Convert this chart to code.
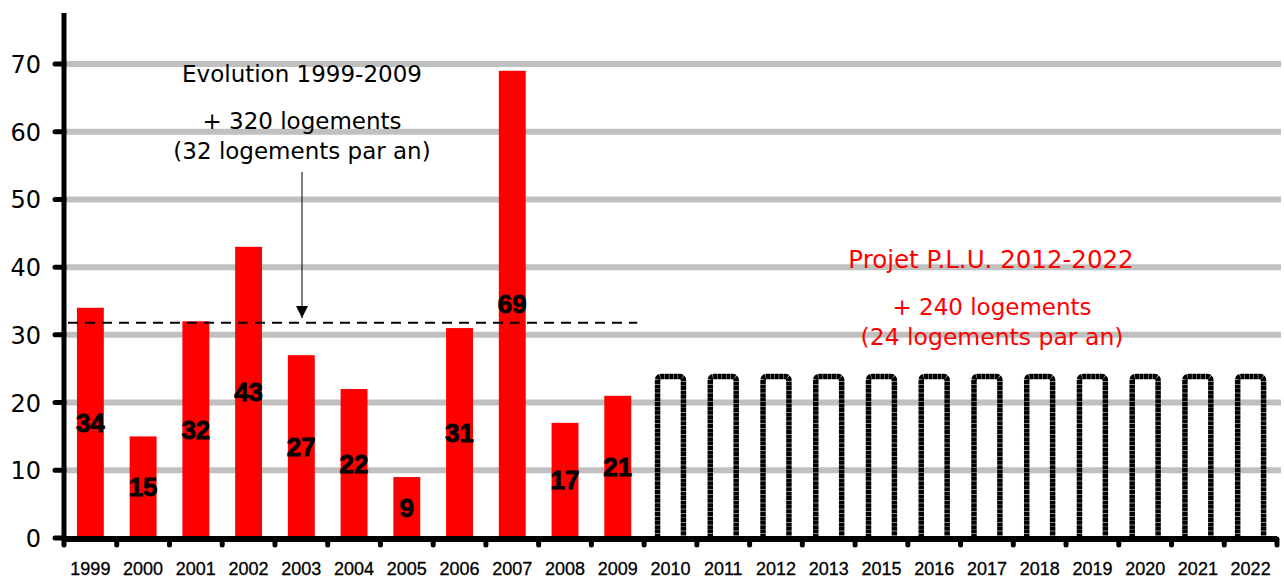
<!DOCTYPE html>
<html lang="fr">
  <head>
    <meta charset="UTF-8" />
    <title>Evolution des logements</title>
    <script src="https://d3js.org/d3.v7.min.js"></script>
    <style>
      body {
        margin: 0;
        background: #ffffff;
      }
      svg {
        display: block;
      }
    </style>
  </head>
  <body>
    <div id="chart"></div>
    <script>
      // data
      const years = [
        '1999', '2000', '2001', '2002', '2003', '2004', '2005', '2006',
        '2007', '2008', '2009', '2010', '2011', '2012', '2013', '2015',
        '2016', '2017', '2018', '2019', '2020', '2021', '2022',
      ];
      const built = [34, 15, 32, 43, 27, 22, 9, 31, 69, 17, 21];
      const projected = [24, 24, 24, 24, 24, 24, 24, 24, 24, 24, 24, 24];
      const yTicks = [0, 10, 20, 30, 40, 50, 60, 70];
      const averagePast = 32;

      const w = 1284,
        h = 579;
      const left = 64,
        right = 1277,
        bottom = 538;

      const svg = d3
        .select('#chart')
        .append('svg')
        .attr('width', w)
        .attr('height', h);

      const x = d3
        .scaleBand()
        .domain(years)
        .range([left, right])
        .paddingInner(0.49)
        .paddingOuter(0.245);

      const y = d3
        .scaleLinear()
        .domain([0, 70])
        .range([bottom, 64]);

      const barData = years.map((yr, i) =>
        i < built.length
          ? { year: yr, value: built[i], kind: 'built' }
          : { year: yr, value: projected[i - built.length], kind: 'plan' },
      );

      // grid lines
      svg
        .append('g')
        .selectAll('line')
        .data(yTicks.filter((d) => d > 0))
        .join('line')
        .attr('x1', left)
        .attr('x2', 1281)
        .attr('y1', (d) => y(d))
        .attr('y2', (d) => y(d))
        .attr('stroke', '#c0c0c0')
        .attr('stroke-width', 6);

      // built bars
      svg
        .append('g')
        .selectAll('rect')
        .data(barData.filter((d) => d.kind === 'built'))
        .join('rect')
        .attr('x', (d) => x(d.year))
        .attr('y', (d) => y(d.value))
        .attr('width', x.bandwidth())
        .attr('height', (d) => y(0) - y(d.value))
        .attr('fill', '#ff0000');

      // planned bars: dotted outline, open at the bottom
      svg
        .append('g')
        .selectAll('path')
        .data(barData.filter((d) => d.kind === 'plan'))
        .join('path')
        .attr('d', (d) => {
          const x0 = x(d.year) + 0.5,
            x1 = x(d.year) + x.bandwidth() - 0.5,
            y0 = y(0),
            y1 = y(d.value) + 1;
          return `M${x0},${y0}V${y1 + 4}Q${x0},${y1} ${x0 + 4},${y1}H${x1 - 4}Q${x1},${y1} ${x1},${y1 + 4}V${y0}`;
        })
        .attr('fill', 'none')
        .attr('stroke', '#000')
        .attr('stroke-width', 5.5)
        .attr('stroke-dasharray', '4,0.4');

      // value labels inside the bars
      svg
        .append('g')
        .selectAll('text')
        .data(barData.filter((d) => d.kind === 'built'))
        .join('text')
        .attr('x', (d) => x(d.year) + x.bandwidth() / 2)
        .attr('y', (d) => y(d.value / 2) + 9)
        .attr('text-anchor', 'middle')
        .attr('font-family', 'Liberation Sans, Arial, sans-serif')
        .attr('font-weight', 'bold')
        .attr('font-size', 26)
        .attr('fill', '#000')
        .attr('stroke', '#000')
        .attr('stroke-width', 0.8)
        .text((d) => d.value);

      // average dashed line 1999-2009
      svg
        .append('line')
        .attr('x1', left + 4)
        .attr('x2', x('2009') + x.bandwidth() + 6)
        .attr('y1', y(averagePast) + 1.5)
        .attr('y2', y(averagePast) + 1.5)
        .attr('stroke', '#000')
        .attr('stroke-width', 2)
        .attr('stroke-dasharray', '10,7');

      // y axis
      svg
        .append('line')
        .attr('x1', left)
        .attr('x2', left)
        .attr('y1', 13)
        .attr('y2', bottom + 3)
        .attr('stroke', '#000')
        .attr('stroke-width', 5);

      svg
        .append('g')
        .selectAll('line')
        .data(yTicks)
        .join('line')
        .attr('x1', 55)
        .attr('x2', left)
        .attr('y1', (d) => y(d))
        .attr('y2', (d) => y(d))
        .attr('stroke', '#000')
        .attr('stroke-width', 5)
        .attr('stroke-linecap', 'round');

      svg
        .append('g')
        .selectAll('text')
        .data(yTicks)
        .join('text')
        .attr('x', 41)
        .attr('y', (d) => y(d) + 9)
        .attr('text-anchor', 'end')
        .attr('font-family', 'DejaVu Sans, sans-serif')
        .attr('font-size', 24)
        .attr('fill', '#000')
        .text((d) => d);

      // x axis
      svg
        .append('line')
        .attr('x1', left)
        .attr('x2', right)
        .attr('y1', bottom + 1)
        .attr('y2', bottom + 1)
        .attr('stroke', '#000')
        .attr('stroke-width', 6);

      const step = x.step();
      svg
        .append('g')
        .selectAll('line')
        .data(d3.range(years.length + 1))
        .join('line')
        .attr('x1', (i) => left + i * step)
        .attr('x2', (i) => left + i * step)
        .attr('y1', bottom + 1)
        .attr('y2', bottom + 7)
        .attr('stroke', '#000')
        .attr('stroke-width', 5)
        .attr('stroke-linecap', 'round');

      svg
        .append('g')
        .selectAll('text')
        .data(years)
        .join('text')
        .attr('x', (d) => x(d) + x.bandwidth() / 2)
        .attr('y', 575)
        .attr('text-anchor', 'middle')
        .attr('font-family', 'Liberation Sans, Arial, sans-serif')
        .attr('font-size', 18)
        .attr('fill', '#000')
        .attr('stroke', '#000')
        .attr('stroke-width', 0.3)
        .text((d) => d);

      // annotations
      const past = svg
        .append('g')
        .attr('font-family', 'DejaVu Sans, sans-serif')
        .attr('font-size', 23)
        .attr('text-anchor', 'middle')
        .attr('fill', '#000');
      past.append('text').attr('x', 302).attr('y', 82).text('Evolution 1999-2009');
      past.append('text').attr('x', 302).attr('y', 129).text('+ 320 logements');
      past.append('text').attr('x', 302).attr('y', 159).text('(32 logements par an)');

      svg
        .append('defs')
        .append('marker')
        .attr('id', 'arrow')
        .attr('viewBox', '0 0 10 10')
        .attr('refX', 10)
        .attr('refY', 5)
        .attr('markerWidth', 12)
        .attr('markerHeight', 12)
        .attr('markerUnits', 'userSpaceOnUse')
        .attr('orient', 'auto')
        .append('path')
        .attr('d', 'M0,0L10,5L0,10Z')
        .attr('fill', '#000');

      svg
        .append('line')
        .attr('x1', 302)
        .attr('x2', 302)
        .attr('y1', 172)
        .attr('y2', 318)
        .attr('stroke', '#000')
        .attr('stroke-width', 1)
        .attr('marker-end', 'url(#arrow)');

      const plan = svg
        .append('g')
        .attr('font-family', 'DejaVu Sans, sans-serif')
        .attr('font-size', 23)
        .attr('text-anchor', 'middle')
        .attr('fill', '#ff0000');
      plan.append('text').attr('x', 991).attr('y', 268).attr('font-size', 24.5).text('Projet P.L.U. 2012-2022');
      plan.append('text').attr('x', 992).attr('y', 315).text('+ 240 logements');
      plan.append('text').attr('x', 992).attr('y', 345).attr('font-size', 23.5).text('(24 logements par an)');
    </script>
  </body>
</html>
